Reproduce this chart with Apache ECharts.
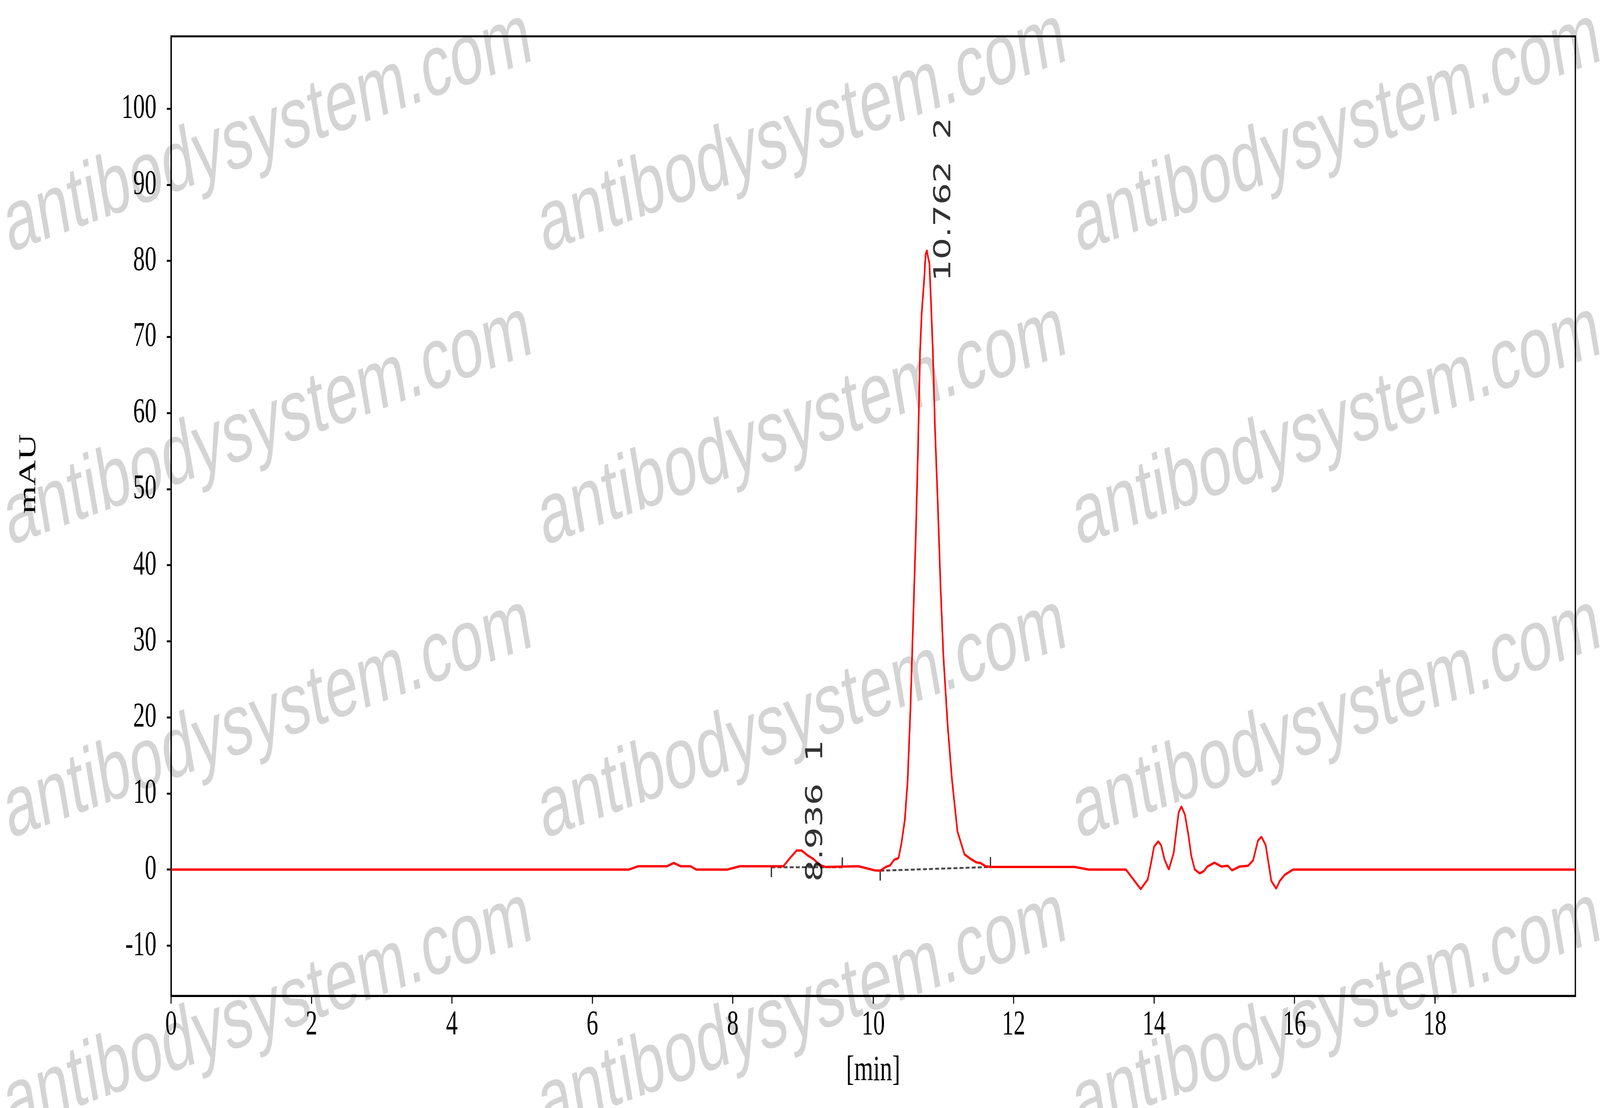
<!DOCTYPE html>
<html>
<head>
<meta charset="utf-8">
<title>HPLC chromatogram</title>
<script src="https://cdn.jsdelivr.net/npm/echarts@6.0.0/dist/echarts.min.js"></script>
<style>
    html, body { margin: 0; padding: 0; width: 100%; height: 100%; overflow: hidden; background: #fff; }
    #hplcChart { position: absolute; left: 0; top: 0; width: 6033px; height: 2836px; transform-origin: 0 0; }
</style>
</head>
<body>
<div id="hplcChart"></div>
<script>
// retention time [min] and detector signal [mAU]
var timeMin = [0, 6.52, 6.65, 7.06, 7.16, 7.26, 7.40, 7.48, 7.92, 8.10, 8.72, 8.81, 8.91, 8.98, 9.06, 9.15, 9.24, 9.32, 9.79, 10.02,
    10.10, 10.18, 10.24, 10.30, 10.36, 10.40, 10.45, 10.49, 10.53, 10.57, 10.61, 10.64, 10.667, 10.69, 10.727, 10.746, 10.764, 10.78, 10.80, 10.82,
    10.85, 10.88, 10.92, 10.96, 11.00, 11.06, 11.12, 11.20, 11.30, 11.38, 11.47, 11.53, 11.60, 11.67, 12.87, 13.07, 13.60, 13.81, 13.91, 13.96,
    14.00, 14.06, 14.10, 14.15, 14.21, 14.28, 14.31, 14.35, 14.39, 14.44, 14.49, 14.53, 14.58, 14.65, 14.71, 14.76, 14.86, 14.96, 15.05, 15.11,
    15.22, 15.34, 15.41, 15.48, 15.53, 15.59, 15.65, 15.67, 15.74, 15.79, 15.86, 15.98, 20];
var signalMAU = [0, 0, 0.43, 0.43, 0.86, 0.43, 0.43, 0, 0, 0.43, 0.43, 1.45, 2.5, 2.5, 1.9, 1.37, 0.6, 0.34, 0.43, -0.1,
    -0.15, 0.35, 0.55, 1.3, 1.5, 3.3, 6.5, 11.6, 21, 33, 45, 56, 68, 73, 77.7, 80.8, 81.4, 80.5, 79.7, 75.3,
    68, 58, 48, 37, 28, 19, 12, 5, 2.0, 1.45, 0.94, 0.86, 0.43, 0.34, 0.34, 0, 0, -2.57, -1.3, 1.0,
    3.0, 3.7, 3.2, 1.3, 0, 2.2, 4.5, 7.5, 8.3, 7.2, 4.5, 1.8, 0, -0.5, -0.2, 0.4, 0.9, 0.4, 0.5, -0.1,
    0.4, 0.5, 1.2, 3.8, 4.3, 3.2, -0.3, -1.5, -2.5, -1.5, -0.7, 0, 0];

// integrated peaks
var peakNo = [1, 2];
var peakTime = [8.936, 10.762];
var peakHeight = [2.5, 81.4];
var baseStartTime = [8.55, 10.10];
var baseStartVal = [0.3, -0.15];
var baseEndTime = [9.56, 11.67];
var baseEndVal = [0.3, 0.34];
var baseMarkLen = 1.3;

// axis ticks
var xTicks = [0, 2, 4, 6, 8, 10, 12, 14, 16, 18];
var yTicks = [-10, 0, 10, 20, 30, 40, 50, 60, 70, 80, 90, 100];

var serif = 'Liberation Serif';
var el = document.getElementById('hplcChart');

// the chart is laid out on the 6033 x 2836 picture; fit it into whatever window we get
var sx = window.innerWidth / 6033;
var sy = window.innerHeight / 2836;
el.style.transform = 'scale(' + sx + ',' + sy + ')';

var chart = echarts.init(el);

var trace = [];
for (var i = 0; i < timeMin.length; i++) {
    trace.push([timeMin[i], signalMAU[i]]);
}

var seriesList = [{
    name: 'signal',
    type: 'line',
    data: trace,
    showSymbol: false,
    silent: true,
    z: 5,
    lineStyle: { color: '#ff0000', width: 6 }
}];

for (var k = 0; k < peakNo.length; k++) {
    // dashed integration baseline
    seriesList.push({
        type: 'line',
        data: [[baseStartTime[k], baseStartVal[k]], [baseEndTime[k], baseEndVal[k]]],
        showSymbol: false,
        silent: true,
        z: 4,
        lineStyle: { color: '#4a4a4a', width: 5, type: [15, 8] }
    });
    // start / end marks
    seriesList.push({
        type: 'line',
        data: [[baseStartTime[k], baseStartVal[k]], [baseStartTime[k], baseStartVal[k] - baseMarkLen]],
        showSymbol: false,
        silent: true,
        z: 4,
        lineStyle: { color: '#333333', width: 5 }
    });
    seriesList.push({
        type: 'line',
        data: [[baseEndTime[k], baseEndVal[k]], [baseEndTime[k], baseEndVal[k] + baseMarkLen]],
        showSymbol: false,
        silent: true,
        z: 4,
        lineStyle: { color: '#333333', width: 5 }
    });
}

var peakPoints = [];
for (var p = 0; p < peakNo.length; p++) {
    peakPoints.push({ value: [peakTime[p], peakHeight[p]], no: peakNo[p] });
}
seriesList.push({
    name: 'peaks',
    type: 'scatter',
    data: peakPoints,
    symbolSize: 1,
    silent: true,
    z: 6,
    itemStyle: { color: 'rgba(0,0,0,0)' },
    label: {
        show: true,
        position: 'inside',
        rotate: 90,
        align: 'left',
        verticalAlign: 'middle',
        offset: [-80, 66],
        fontFamily: 'DejaVu Sans',
        fontSize: 88,
        color: '#000',
        formatter: function(d) {
            return d.value[0].toFixed(3) + '  ' + d.data.no;
        }
    }
});

// watermark
var wmCols = [1010, 3025, 5040];
var wmRows = [340, 1090, 1840, 2590];
var marks = [];
wmRows.forEach(function(y) {
    wmCols.forEach(function(x) {
        marks.push({
            type: 'text',
            x: x,
            y: y,
            rotation: 14 * Math.PI / 180,
            z: -10,
            silent: true,
            style: {
                text: 'antibodysystem.com',
                fontFamily: 'Liberation Sans',
                fontSize: 224,
                fill: '#d4d4d4',
                align: 'center',
                verticalAlign: 'middle'
            }
        });
    });
});

var option = {
    backgroundColor: '#fff',
    animation: false,
    graphic: { elements: marks },
    grid: {
        left: 645,
        right: 93,
        top: 93,
        bottom: 287,
        show: true,
        borderColor: '#000',
        borderWidth: 5,
        containLabel: false
    },
    xAxis: {
        type: 'value',
        min: 0,
        max: 20,
        name: '[min]',
        nameLocation: 'middle',
        nameGap: 146,
        nameTextStyle: { fontFamily: serif, fontSize: 92, color: '#000' },
        axisLine: { show: true, onZero: false, lineStyle: { color: '#000', width: 5 } },
        axisTick: { show: true, length: 20, customValues: xTicks, lineStyle: { color: '#000', width: 4 } },
        axisLabel: { margin: 31, customValues: xTicks, fontFamily: serif, fontSize: 88, color: '#000' },
        splitLine: { show: false }
    },
    yAxis: {
        type: 'value',
        min: -16.6,
        max: 109.5,
        name: 'mAU',
        nameLocation: 'middle',
        nameGap: 490,
        nameRotate: 90,
        nameTextStyle: { fontFamily: serif, fontSize: 92, color: '#000', padding: [0, 0, 0, 216] },
        axisLine: { show: true, onZero: false, lineStyle: { color: '#000', width: 5 } },
        axisTick: { show: true, length: 16, customValues: yTicks, lineStyle: { color: '#000', width: 5 } },
        axisLabel: { margin: 55, customValues: yTicks, fontFamily: serif, fontSize: 88, color: '#000' },
        splitLine: { show: false }
    },
    series: seriesList
};
chart.setOption(option);
</script>
</body>
</html>
